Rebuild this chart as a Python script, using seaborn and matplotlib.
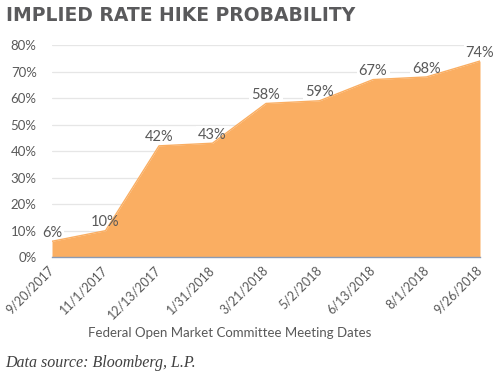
import matplotlib
matplotlib.use("Agg")
import matplotlib.pyplot as plt
import seaborn as sns
import pandas as pd

# ==================================================
# Data
# ==================================================
meeting_dates = [
    "9/20/2017", "11/1/2017", "12/13/2017", "1/31/2018", "3/21/2018",
    "5/2/2018", "6/13/2018", "8/1/2018", "9/26/2018"
]
hike_prob = [6, 10, 42, 43, 58, 59, 67, 68, 74]
y_ticks = [0, 10, 20, 30, 40, 50, 60, 70, 80]

df = pd.DataFrame({
    "pos": range(len(meeting_dates)),
    "date": meeting_dates,
    "prob": hike_prob
})

# ==================================================
# Plot
# ==================================================
sns.set_style("white")
plt.rcParams["font.family"] = ["Lato", "DejaVu Sans"]

fill_color = "#FAAE62"
text_color = "#595959"

fig = plt.figure(figsize=(5, 3.76), dpi=100)
ax = fig.add_axes([0.104, 0.316, 0.856, 0.564])

sns.lineplot(data=df, x="pos", y="prob", ax=ax, color=fill_color,
             linewidth=1, zorder=2)
ax.fill_between(df["pos"], df["prob"], 0, color=fill_color, linewidth=0, zorder=2)

ax.set_xlim(0, len(meeting_dates) - 1)
ax.set_ylim(0, 80)
ax.set_yticks(y_ticks)
ax.set_yticklabels([f"{v}%" for v in y_ticks], color=text_color, fontsize=9.5)
ax.set_xticks(df["pos"])
ax.set_xticklabels(meeting_dates, rotation=45, ha="right", va="center",
                   rotation_mode="anchor", color=text_color, fontsize=9)
ax.tick_params(axis="y", length=0, pad=11)
ax.tick_params(axis="x", length=0, pad=8)

ax.yaxis.grid(True, color="#E6E6E6", linewidth=0.9, zorder=0)
ax.set_axisbelow(True)
for side in ["left", "right", "top"]:
    ax.spines[side].set_visible(False)
ax.spines["bottom"].set_color("#8A9BB5")
ax.spines["bottom"].set_linewidth(1)
ax.spines["bottom"].set_zorder(3)

ax.set_xlabel("")
ax.set_ylabel("")

# Data labels: white patch behind text cuts the gridlines but stays under the area
for x, v in zip(df["pos"], df["prob"]):
    ax.annotate(
        f"{v}%", (x, v), xytext=(0, 1), textcoords="offset points",
        ha="center", va="bottom", fontsize=10.5, color="none",
        bbox=dict(boxstyle="square,pad=0.15", fc="white", ec="none"),
        zorder=1, annotation_clip=False
    )
    ax.annotate(
        f"{v}%", (x, v), xytext=(0, 1), textcoords="offset points",
        ha="center", va="bottom", fontsize=10.5, color=text_color,
        zorder=4, annotation_clip=False
    )

fig.text(0.012, 0.96, "IMPLIED RATE HIKE PROBABILITY",
         fontsize=13.5, fontweight="bold", family="DejaVu Sans",
         color="#5A5A5C", va="center")

fig.text(0.46, 0.115, "Federal Open Market Committee Meeting Dates",
         fontsize=9.5, color=text_color, ha="center", va="center")

fig.text(0.01, 0.035, "Data source: Bloomberg, L.P.",
         fontsize=11.5, style="italic", family="Liberation Serif",
         color="#404040", va="center")

fig.savefig("out.png", dpi=100)
